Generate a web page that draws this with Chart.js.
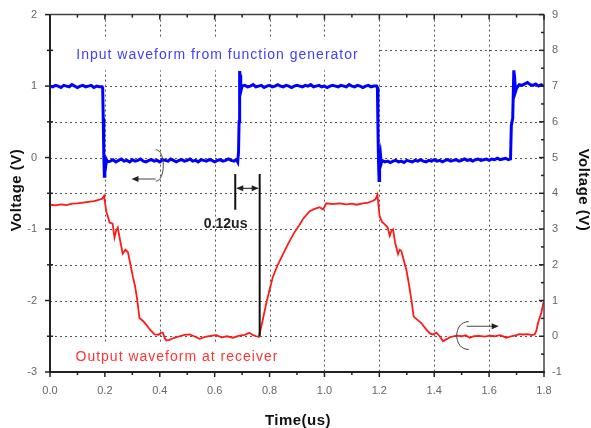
<!DOCTYPE html>
<html>
<head>
<meta charset="utf-8">
<script src="https://cdn.jsdelivr.net/npm/chart.js@4.4.0/dist/chart.umd.min.js"></script>
<style>
  html, body { margin: 0; padding: 0; background: #fff; }
  #wrap { width: 591px; height: 428px; }
</style>
</head>
<body>
<div id="wrap"><canvas id="chart" width="591" height="428"></canvas></div>
<script>
// --- DATA ---
// input waveform, left axis (V)
const blueTime = [
  0, 0.01, 0.02, 0.03, 0.04, 0.05, 0.06, 0.07, 0.08, 0.09, 0.10, 0.11, 0.12, 0.13, 0.14, 0.15, 0.16, 0.17, 0.18,
  0.19, 0.192, 0.194, 0.196, 0.198, 0.200, 0.203, 0.206, 0.21,
  0.22, 0.23, 0.24, 0.25, 0.26, 0.27, 0.28, 0.29, 0.30, 0.31, 0.32, 0.33, 0.34, 0.35, 0.36, 0.37, 0.38, 0.39, 0.40, 0.41,
  0.42, 0.43, 0.44, 0.45, 0.46, 0.47, 0.48, 0.49, 0.50, 0.51, 0.52, 0.53, 0.54, 0.55, 0.56, 0.57, 0.58, 0.59, 0.60, 0.61,
  0.62, 0.63, 0.64, 0.65, 0.66, 0.67, 0.68,
  0.684, 0.687, 0.689, 0.691, 0.693, 0.695, 0.698, 0.70,
  0.71, 0.72, 0.73, 0.74, 0.75, 0.76, 0.77, 0.78, 0.79, 0.80, 0.81, 0.82, 0.83, 0.84, 0.85, 0.86, 0.87, 0.88, 0.89, 0.90,
  0.91, 0.92, 0.93, 0.94, 0.95, 0.96, 0.97, 0.98, 0.99, 1.00, 1.01, 1.02, 1.03, 1.04, 1.05, 1.06, 1.07, 1.08, 1.09, 1.10,
  1.11, 1.12, 1.13, 1.14, 1.15, 1.16, 1.17, 1.18,
  1.19, 1.193, 1.195, 1.197, 1.199, 1.201, 1.204, 1.207, 1.21,
  1.22, 1.23, 1.24, 1.25, 1.26, 1.27, 1.28, 1.29, 1.30, 1.31, 1.32, 1.33, 1.34, 1.35, 1.36, 1.37, 1.38, 1.39, 1.40, 1.41,
  1.42, 1.43, 1.44, 1.45, 1.46, 1.47, 1.48, 1.49, 1.50, 1.51, 1.52, 1.53, 1.54, 1.55, 1.56, 1.57, 1.58, 1.59, 1.60, 1.61,
  1.62, 1.63, 1.64, 1.65, 1.66, 1.67,
  1.678, 1.681, 1.686, 1.690, 1.693, 1.696, 1.70,
  1.71, 1.72, 1.73, 1.74, 1.75, 1.76, 1.77, 1.78, 1.79, 1.80
];
const blueVolt = [
  1.00, 0.99, 1.01, 1.00, 0.98, 1.01, 1.00, 0.99, 1.02, 1.00, 0.98, 1.00, 1.01, 0.99, 1.00, 1.01, 0.98, 1.00, 0.99,
  0.99, 0.97, 0.55, 0.05, -0.26, -0.08, -0.12, -0.03, -0.06,
  -0.05, -0.03, -0.06, -0.04, -0.02, -0.05, -0.04, -0.06, -0.03, -0.05, -0.04, -0.02, -0.05, -0.06, -0.04, -0.03, -0.05, -0.04, -0.06, -0.03,
  -0.04, -0.05, -0.02, -0.04, -0.06, -0.04, -0.03, -0.05, -0.04, -0.02, -0.05, -0.04, -0.06, -0.03, -0.04, -0.05, -0.03, -0.04, -0.06, -0.04,
  -0.03, -0.05, -0.04, -0.02, -0.04, -0.05, -0.03,
  -0.06, 0.08, 0.50, 1.21, 1.15, 0.92, 0.97, 1.00,
  1.01, 0.99, 1.00, 1.02, 0.99, 1.00, 1.01, 0.98, 1.00, 1.01, 0.99, 1.00, 1.02, 1.00, 0.99, 1.01, 1.00, 0.98, 1.00, 1.01,
  1.00, 0.99, 1.01, 1.00, 1.02, 0.99, 1.00, 1.01, 0.99, 1.00, 0.98, 1.00, 1.01, 1.00, 0.99, 1.01, 1.00, 0.99, 1.02, 1.00,
  0.99, 1.01, 1.00, 0.98, 1.00, 1.01, 0.99, 1.00,
  1.00, 0.98, 0.40, -0.05, -0.32, -0.02, 0.05, -0.08, -0.04,
  -0.06, -0.05, -0.07, -0.05, -0.04, -0.06, -0.05, -0.07, -0.04, -0.05, -0.06, -0.04, -0.05, -0.03, -0.05, -0.06, -0.04, -0.05, -0.03, -0.05,
  -0.04, -0.06, -0.04, -0.03, -0.05, -0.04, -0.03, -0.05, -0.04, -0.02, -0.04, -0.03, -0.05, -0.03, -0.02, -0.04, -0.03, -0.02, -0.04, -0.02,
  -0.03, -0.01, -0.03, -0.02, -0.01, -0.03,
  -0.02, 0.45, 0.55, 1.22, 1.12, 0.92, 0.97,
  1.02, 1.01, 1.03, 1.05, 1.02, 1.01, 1.03, 1.00, 1.02, 1.00
];

// output waveform, right axis (V)
const redTime = [
  0, 0.02, 0.04, 0.06, 0.08, 0.10, 0.12, 0.14, 0.16, 0.18, 0.19, 0.197,
  0.205, 0.217, 0.228, 0.235, 0.241, 0.247, 0.255, 0.265, 0.275, 0.284, 0.292, 0.302, 0.31, 0.318, 0.326,
  0.34, 0.351, 0.365, 0.381, 0.395, 0.405, 0.411, 0.418, 0.424, 0.435, 0.45, 0.472, 0.49, 0.509, 0.525, 0.545,
  0.565, 0.585, 0.606, 0.625, 0.645, 0.667, 0.69, 0.71, 0.727, 0.74, 0.752, 0.761,
  0.775, 0.788, 0.80, 0.812, 0.83, 0.849, 0.87, 0.89, 0.91, 0.922, 0.935, 0.946, 0.96, 0.982, 0.995,
  1.007, 1.03, 1.055, 1.08, 1.10, 1.116, 1.14, 1.16, 1.177, 1.186, 1.193,
  1.201, 1.21, 1.22, 1.23, 1.238, 1.244, 1.25, 1.258, 1.268, 1.274, 1.28, 1.29, 1.299, 1.308, 1.317, 1.325,
  1.34, 1.353, 1.37, 1.384, 1.395, 1.408, 1.42, 1.432, 1.445, 1.46, 1.481, 1.50, 1.515, 1.529, 1.545,
  1.565, 1.585, 1.602, 1.62, 1.64, 1.663, 1.68, 1.70, 1.71, 1.724, 1.74, 1.755, 1.766, 1.772, 1.778, 1.79, 1.80
];
const redVolt = [
  3.68, 3.66, 3.69, 3.67, 3.71, 3.72, 3.74, 3.76, 3.78, 3.82, 3.85, 3.93,
  3.50, 3.18, 3.15, 2.76, 2.95, 3.04, 2.70, 2.31, 2.42, 2.35, 2.05, 1.66, 1.40, 1.01, 0.51,
  0.42, 0.32, 0.18, 0.05, 0.04, 0.10, 0.10, -0.05, -0.12, -0.10, -0.05, 0.00, 0.04, 0.05, 0.00, -0.07,
  -0.02, 0.01, 0.03, -0.03, 0.00, -0.04, 0.02, 0.04, 0.10, 0.03, 0.00, -0.02,
  0.45, 0.92, 1.30, 1.66, 2.00, 2.30, 2.62, 2.90, 3.13, 3.28, 3.40, 3.50, 3.55, 3.61, 3.55,
  3.72, 3.70, 3.72, 3.69, 3.71, 3.68, 3.72, 3.74, 3.79, 3.83, 3.96,
  3.36, 3.20, 3.13, 3.05, 2.81, 2.95, 2.99, 2.60, 2.30, 2.42, 2.39, 2.10, 1.84, 1.45, 1.01, 0.55,
  0.45, 0.37, 0.20, 0.08, 0.05, 0.10, 0.00, -0.14, -0.08, -0.02, 0.02, 0.00, 0.03, -0.04, 0.00,
  0.01, -0.01, 0.02, 0.00, 0.03, -0.04, 0.00, 0.03, 0.06, 0.05, 0.06, 0.03, 0.05, 0.15, 0.37, 0.65, 1.01
];

// axes
const xMajor = [0, 0.2, 0.4, 0.6, 0.8, 1.0, 1.2, 1.4, 1.6, 1.8];
const xMinor = [0.1, 0.3, 0.5, 0.7, 0.9, 1.1, 1.3, 1.5, 1.7];
const xGrid = [0.2, 0.4, 0.6, 0.8, 1.0, 1.2, 1.4, 1.6];
const leftMajor = [-3, -2, -1, 0, 1, 2];
const leftMinor = [-2.5, -1.5, -0.5, 0.5, 1.5];
const leftGrid = [-2.5, -2, -1.5, -1, -0.5, 0, 0.5, 1, 1.5];
const rightMajor = [-1, 0, 1, 2, 3, 4, 5, 6, 7, 8, 9];
const rightMinor = [-0.5, 0.5, 1.5, 2.5, 3.5, 4.5, 5.5, 6.5, 7.5, 8.5];

// annotations, in data units (left axis unless marked)
const inputLabel = { text: 'Input waveform from function generator', t: 0.096, v: 1.43 };
const outputLabel = { text: 'Output waveform at receiver', t: 0.093, v: -2.79 };
const delayLabel = { text: '0.12us', t: 0.64, v: -0.93 };
const delayLines = [
  { t: 0.675, from: -0.23, to: -0.73 },
  { t: 0.764, from: -0.23, to: -2.5 }
];
const delayArrowV = -0.43;

const FONT = "'Liberation Sans', Arial, sans-serif";

function toPoints(ts, vs) {
  return ts.map((t, i) => ({ x: t, y: vs[i] }));
}

function line(ctx, x1, y1, x2, y2) {
  ctx.beginPath();
  ctx.moveTo(x1, y1);
  ctx.lineTo(x2, y2);
  ctx.stroke();
}

function arrowHead(ctx, x, y, dir) {
  // dir: +1 points right, -1 points left
  ctx.beginPath();
  ctx.moveTo(x, y);
  ctx.lineTo(x - dir * 7, y - 3);
  ctx.lineTo(x - dir * 7, y + 3);
  ctx.closePath();
  ctx.fill();
}

// --- plugin: grid, frame, ticks, notes ---
const scopeDecor = {
  id: 'scopeDecor',
  beforeDatasetsDraw(chart) {
    const { ctx, chartArea: a, scales: { x, y } } = chart;
    ctx.save();
    ctx.strokeStyle = '#555';
    ctx.lineWidth = 1;
    ctx.setLineDash([2, 3]);
    xGrid.forEach(t => {
      const p = Math.round(x.getPixelForValue(t)) + 0.5;
      line(ctx, p, a.top, p, a.bottom);
    });
    leftGrid.forEach(v => {
      const p = Math.round(y.getPixelForValue(v)) + 0.5;
      line(ctx, a.left, p, a.right, p);
    });
    ctx.setLineDash([]);

    // white panels behind the two captions
    ctx.fillStyle = '#fff';
    ctx.fillRect(x.getPixelForValue(0.016), y.getPixelForValue(1.66),
      x.getPixelForValue(1.195) - x.getPixelForValue(0.016), y.getPixelForValue(1.22) - y.getPixelForValue(1.66));
    ctx.fillRect(x.getPixelForValue(0.016), y.getPixelForValue(-2.6),
      x.getPixelForValue(0.87) - x.getPixelForValue(0.016), a.bottom - y.getPixelForValue(-2.6) - 1);
    ctx.restore();
  },
  afterDatasetsDraw(chart) {
    const { ctx, chartArea: a, scales: { x, y, y2 } } = chart;
    ctx.save();

    // frame
    ctx.strokeStyle = '#222';
    ctx.lineWidth = 2;
    line(ctx, a.left, a.top, a.left, a.bottom + 1);
    line(ctx, a.left - 1, a.bottom, a.right + 1, a.bottom);
    ctx.strokeStyle = '#444';
    ctx.lineWidth = 1.5;
    line(ctx, a.left, a.top, a.right, a.top);
    line(ctx, a.right, a.top, a.right, a.bottom);

    // ticks
    ctx.strokeStyle = '#222';
    ctx.lineWidth = 1.5;
    xMajor.forEach(t => {
      const p = x.getPixelForValue(t);
      line(ctx, p, a.bottom, p, a.bottom + 5);
      line(ctx, p, a.top, p, a.top + 5);
    });
    xMinor.forEach(t => {
      const p = x.getPixelForValue(t);
      line(ctx, p, a.bottom, p, a.bottom + 3);
      line(ctx, p, a.top, p, a.top + 3);
    });
    leftMajor.forEach(v => {
      const p = y.getPixelForValue(v);
      line(ctx, a.left - 5, p, a.left, p);
    });
    leftMinor.forEach(v => {
      const p = y.getPixelForValue(v);
      line(ctx, a.left - 3, p, a.left + 3, p);
    });
    rightMajor.forEach(v => {
      const p = y2.getPixelForValue(v);
      line(ctx, a.right - 5, p, a.right, p);
    });
    rightMinor.forEach(v => {
      const p = y2.getPixelForValue(v);
      line(ctx, a.right - 3, p, a.right, p);
    });

    // curve-to-axis brackets
    ctx.strokeStyle = '#444';
    ctx.fillStyle = '#222';
    ctx.lineWidth = 1;
    const bx = x.getPixelForValue(0.40), bt = y.getPixelForValue(0.11), bb = y.getPixelForValue(-0.33);
    ctx.beginPath();
    ctx.moveTo(bx - 4, bt);
    ctx.bezierCurveTo(bx + 6, bt, bx + 6, bb, bx - 4, bb);
    ctx.stroke();
    const ay = y.getPixelForValue(-0.30);
    line(ctx, bx - 4, ay, x.getPixelForValue(0.297) + 4, ay);
    arrowHead(ctx, x.getPixelForValue(0.297), ay, -1);

    const rx = x.getPixelForValue(1.482), rt = y2.getPixelForValue(0.41), rb = y2.getPixelForValue(-0.37);
    ctx.beginPath();
    ctx.moveTo(rx + 12, rt);
    ctx.bezierCurveTo(rx - 4, rt, rx - 4, rb, rx + 12, rb);
    ctx.stroke();
    const ry = y2.getPixelForValue(0.28);
    line(ctx, rx + 10, ry, x.getPixelForValue(1.635) - 4, ry);
    arrowHead(ctx, x.getPixelForValue(1.635), ry, 1);

    // 0.12us delay marker
    ctx.strokeStyle = '#111';
    ctx.lineWidth = 2;
    delayLines.forEach(d => {
      const p = x.getPixelForValue(d.t);
      line(ctx, p, y.getPixelForValue(d.from), p, y.getPixelForValue(d.to));
    });
    const d1 = x.getPixelForValue(delayLines[0].t), d2 = x.getPixelForValue(delayLines[1].t);
    const dy = y.getPixelForValue(delayArrowV);
    ctx.lineWidth = 1;
    line(ctx, d1 + 2, dy, d2 - 2, dy);
    arrowHead(ctx, d1 + 1, dy, -1);
    arrowHead(ctx, d2 - 1, dy, 1);

    // captions
    ctx.textBaseline = 'middle';
    ctx.textAlign = 'left';
    ctx.font = '14px ' + FONT;
    ctx.letterSpacing = '1px';
    ctx.fillStyle = '#4040ff';
    ctx.fillText(inputLabel.text, x.getPixelForValue(inputLabel.t), y.getPixelForValue(inputLabel.v));
    ctx.fillStyle = '#ff3333';
    ctx.fillText(outputLabel.text, x.getPixelForValue(outputLabel.t), y.getPixelForValue(outputLabel.v));
    ctx.letterSpacing = '0px';
    ctx.textAlign = 'center';
    ctx.font = 'bold 14px ' + FONT;
    ctx.fillStyle = '#222';
    ctx.fillText(delayLabel.text, x.getPixelForValue(delayLabel.t), y.getPixelForValue(delayLabel.v));

    // axis titles
    ctx.font = 'bold 15px ' + FONT;
    ctx.fillStyle = '#111';
    ctx.letterSpacing = '0.5px';
    ctx.fillText('Time(us)', (a.left + a.right) / 2 + 1, 421);
    ctx.save();
    ctx.translate(17, 190);
    ctx.rotate(-Math.PI / 2);
    ctx.fillText('Voltage (V)', 0, 0);
    ctx.restore();
    ctx.save();
    ctx.translate(583, 190);
    ctx.rotate(Math.PI / 2);
    ctx.fillText('Voltage (V)', 0, 0);
    ctx.restore();

    ctx.restore();
  }
};

const tickFont = { family: FONT, size: 11 };

new Chart(document.getElementById('chart'), {
  type: 'line',
  data: {
    datasets: [
      {
        label: 'Input',
        data: toPoints(blueTime, blueVolt),
        yAxisID: 'y',
        borderColor: '#0000ff',
        borderWidth: 3,
        pointRadius: 0,
        tension: 0
      },
      {
        label: 'Output',
        data: toPoints(redTime, redVolt),
        yAxisID: 'y2',
        borderColor: '#ff1a1a',
        borderWidth: 1.8,
        pointRadius: 0,
        tension: 0
      }
    ]
  },
  options: {
    responsive: false,
    animation: false,
    events: [],
    layout: { padding: { top: 10, left: 0, right: 0, bottom: 0 } },
    plugins: { legend: { display: false }, tooltip: { enabled: false } },
    scales: {
      x: {
        type: 'linear',
        min: 0, max: 1.8,
        border: { display: false },
        grid: { display: false, drawTicks: true, tickLength: 5 },
        ticks: { stepSize: 0.2, padding: 7, color: '#666', font: tickFont, maxRotation: 0, callback: v => v.toFixed(1) },
        afterFit: s => { s.height = 56; }
      },
      y: {
        position: 'left',
        min: -3, max: 2,
        border: { display: false },
        grid: { display: false, drawTicks: true, tickLength: 5 },
        ticks: { stepSize: 1, padding: 8, color: '#666', font: tickFont },
        afterFit: s => { s.width = 50; }
      },
      y2: {
        position: 'right',
        min: -1, max: 9,
        border: { display: false },
        grid: { display: false, drawTicks: false },
        ticks: { stepSize: 1, padding: 8, color: '#666', font: tickFont },
        afterFit: s => { s.width = 47; }
      }
    }
  },
  plugins: [scopeDecor]
});
</script>
</body>
</html>
